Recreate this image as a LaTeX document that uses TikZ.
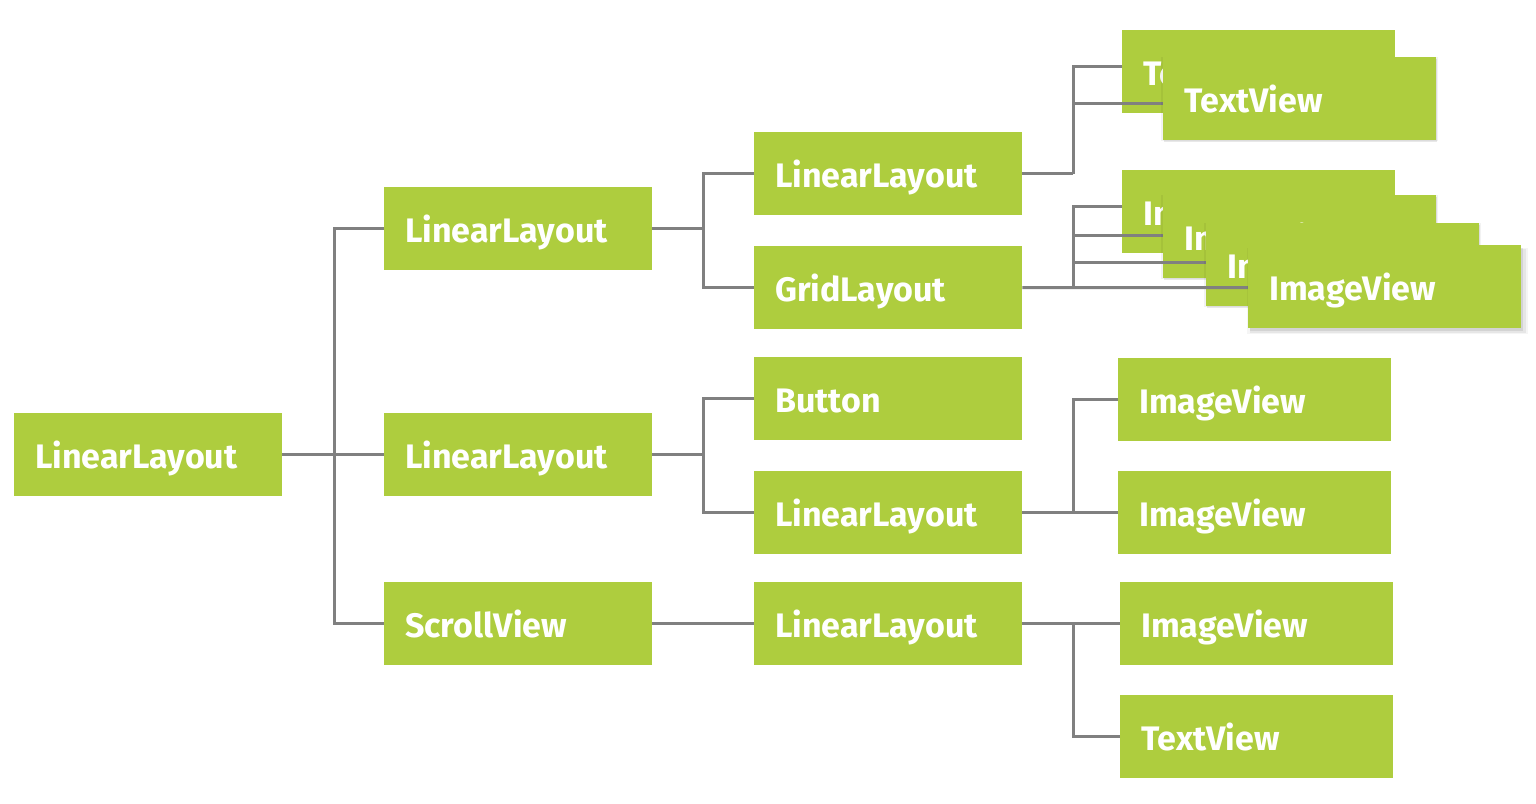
\documentclass[tikz,border=0pt]{standalone}
\usepackage{fontspec}
\setmainfont{Fira Sans}
\usetikzlibrary{calc,shadows}
\definecolor{boxgreen}{RGB}{174,205,62}
\definecolor{conngray}{RGB}{128,128,128}
\tikzset{
  box/.style={fill=boxgreen, draw=none, anchor=north west, minimum height=83pt,
    inner xsep=21pt, inner ysep=0pt, text width=226pt, text height=27pt, text depth=0pt,
    align=left, text=white, font=\bfseries\fontsize{34}{40}\selectfont},
  vbox/.style={box, text width=231pt},
  stacked/.style={
    drop shadow={shadow xshift=0pt, shadow yshift=0pt, shadow scale=1.015, opacity=0.05, fill=black},
    drop shadow={shadow xshift=1pt, shadow yshift=-2pt, opacity=0.09, fill=black}},
  front/.style={
    drop shadow={shadow xshift=3pt, shadow yshift=-4pt, shadow scale=1.03, opacity=0.04, fill=black},
    drop shadow={shadow xshift=3pt, shadow yshift=-4pt, shadow scale=1.01, opacity=0.06, fill=black},
    drop shadow={shadow xshift=2pt, shadow yshift=-3pt, opacity=0.08, fill=black}},
  conn/.style={draw=conngray, line width=3pt}
}
\begin{document}
\begin{tikzpicture}[x=1pt,y=-1pt]
\useasboundingbox[fill=white] (0,0) rectangle (1536,803);
% column 1
\node[box] (root) at (14,413) {LinearLayout};
% column 2
\node[box] (l1) at (384,187) {LinearLayout};
\node[box] (l2) at (384,413) {LinearLayout};
\node[box] (sv) at (384,582) {ScrollView};
% column 3
\node[box] (c3a) at (754,132) {LinearLayout};
\node[box] (grid) at (754,246) {GridLayout};
\node[box] (btn) at (754,357) {Button};
\node[box] (c3b) at (754,471) {LinearLayout};
\node[box] (c3c) at (754,582) {LinearLayout};
% column 4 lower
\node[vbox] (ivR1) at (1118,358) {ImageView};
\node[vbox] (ivR2) at (1118,471) {ImageView};
\node[vbox] (ivR3) at (1120,582) {ImageView};
\node[vbox] (tvR) at (1120,695) {TextView};

% connectors, columns 1-3
\coordinate (j1) at ($(root.east)+(52,0)$);
\draw[conn] (root.east) -- (j1) -- (l2.west);
\draw[conn] (l1.west) -| (j1) |- (sv.west);

\coordinate (j2) at ($(l1.east)+(51,0)$);
\draw[conn] (l1.east) -- (j2);
\draw[conn] (c3a.west) -| (j2) |- (grid.west);

\coordinate (j3) at ($(l2.east)+(51,0)$);
\draw[conn] (l2.east) -- (j3);
\draw[conn] (btn.west) -| (j3) |- (c3b.west);

\draw[conn] (sv.east) -- (c3c.west);

\coordinate (j6) at ($(c3b.east)+(51,0)$);
\draw[conn] (c3b.east) -- (ivR2.west);
\draw[conn] (ivR1.west) -| (j6);

\coordinate (j7) at ($(c3c.east)+(51,0)$);
\draw[conn] (c3c.east) -- (ivR3.west);
\draw[conn] (tvR.west) -| (j7);

% TextView stack
\coordinate (j4) at ($(c3a.east)+(51,0)$);
\coordinate (tvBin) at (1163,103);
\node[vbox] (tvA) at (1122,30) {TextView};
\draw[conn] (c3a.east) -- (j4);
\draw[conn] ([yshift=5.5pt]tvA.west) -| (j4);
\draw[conn] (tvBin) -| (j4);
\node[vbox,stacked] (tvB) at (1163,57) {TextView};

% ImageView stack
\coordinate (j5) at ($(grid.east)+(51,0)$);
\coordinate (ivBin) at (1163,235);
\coordinate (ivCin) at (1206,262);
\coordinate (ivDin) at (1248,287.5);
\node[vbox] (ivA) at (1122,170) {ImageView};
\draw[conn] ([yshift=5.5pt]ivA.west) -| (j5);
\draw[conn] (ivBin) -| (j5);
\node[vbox,stacked] (ivB) at (1163,195) {ImageView};
\draw[conn] (ivCin) -| (j5);
\node[vbox,stacked] (ivC) at (1206,223) {ImageView};
\draw[conn] (grid.east) -- (ivDin);
\node[vbox,front] (ivD) at (1248,245) {ImageView};
\end{tikzpicture}
\end{document}
